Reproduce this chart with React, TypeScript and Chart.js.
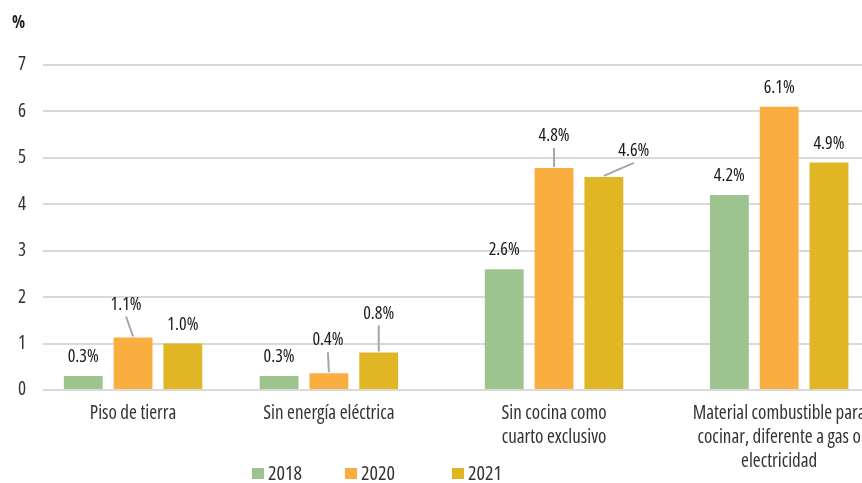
import React, { useEffect, useRef } from 'react';
import { Chart, registerables } from 'chart.js';

Chart.register(...registerables);

// ---- data ----
const categories: string[][] = [
  ['Piso de tierra'],
  ['Sin energía eléctrica'],
  ['Sin cocina como', 'cuarto exclusivo'],
  ['Material combustible para', 'cocinar, diferente a gas o', 'electricidad'],
];
const seriesNames = ['2018', '2020', '2021'];
const values2018 = [0.3, 0.3, 2.6, 4.2];
const values2020 = [1.13, 0.36, 4.78, 6.1];
const values2021 = [1.0, 0.81, 4.59, 4.9];
const yTicks = [0, 1, 2, 3, 4, 5, 6, 7];
const unitLabel = '%';

// ---- layout / style ----
const categorySlots = [0, 0.87, 1.87, 2.87];
const seriesColors = ['#9dc38e', '#fbae40', '#e0b625'];
const FAMILY = "'Open Sans', sans-serif";
const STRETCH = 'condensed';
const W = 921;
const H = 483;
const labelPlacement: Record<string, { dx: number; dy: number }> = {
  '1-0': { dx: -7, dy: -33 },
  '1-1': { dx: -1, dy: -33 },
  '2-1': { dx: 0, dy: -39 },
  '1-2': { dx: 0, dy: -32 },
  '2-2': { dx: 30, dy: -26 },
};
const legendX = [252, 345, 452];

const labelsPlugin = {
  id: 'barValueLabels',
  afterDatasetsDraw(chart: any) {
    const c = chart.ctx as CanvasRenderingContext2D;
    c.save();
    c.font = `${STRETCH} 18px ${FAMILY}`;
    c.textAlign = 'center';
    c.textBaseline = 'middle';
    chart.data.datasets.forEach((ds: any, di: number) => {
      const meta = chart.getDatasetMeta(di);
      meta.data.forEach((bar: any, i: number) => {
        const v = ds.data[i].y as number;
        const place = labelPlacement[`${di}-${i}`];
        const dx = place ? place.dx : 0;
        const dy = place ? place.dy : -19;
        const lx = bar.x + dx;
        const ly = bar.y + dy;
        if (place) {
          c.strokeStyle = '#a6a6a6';
          c.lineWidth = 2;
          c.beginPath();
          c.moveTo(lx, ly + 12);
          c.lineTo(bar.x, bar.y - 1);
          c.stroke();
        }
        c.fillStyle = '#1a1a1a';
        c.fillText(v.toFixed(1) + '%', lx, ly);
      });
    });
    c.restore();
  },
};

const extrasPlugin = {
  id: 'extras',
  afterDraw(chart: any) {
    const c = chart.ctx as CanvasRenderingContext2D;
    c.save();
    c.font = `bold ${STRETCH} 17px ${FAMILY}`;
    c.fillStyle = '#1a1a1a';
    c.textAlign = 'left';
    c.textBaseline = 'middle';
    c.fillText(unitLabel, 12, 23);
    c.font = `${STRETCH} 20px ${FAMILY}`;
    chart.data.datasets.forEach((ds: any, di: number) => {
      const x = legendX[di];
      c.fillStyle = ds.backgroundColor;
      c.fillRect(x, 468, 12, 11);
      c.fillStyle = '#333';
      c.fillText(ds.label, x + 16, 474);
    });
    c.restore();
  },
};

export default function App() {
  const ref = useRef<HTMLCanvasElement>(null);
  useEffect(() => {
    document.body.style.margin = '0';
    document.body.style.overflow = 'hidden';
    document.documentElement.style.overflow = 'hidden';
    const canvas = ref.current!;
    const allValues = [values2018, values2020, values2021];
    const datasets = allValues.map((vals, di) => ({
      label: seriesNames[di],
      data: vals.map((v, i) => ({ x: categorySlots[i], y: v })),
      backgroundColor: seriesColors[di],
      borderWidth: 0,
      barPercentage: 0.78,
      categoryPercentage: 0.763,
    }));
    const chart = new Chart(canvas, {
      type: 'bar',
      data: { datasets } as any,
      options: {
        animation: false,
        responsive: false,
        maintainAspectRatio: false,
        layout: { padding: { top: 65, bottom: 10, left: 0, right: 0 } },
        plugins: { legend: { display: false }, tooltip: { enabled: false } },
        scales: {
          x: {
            type: 'linear',
            min: -0.4,
            max: 3.5,
            bounds: 'data',
            offset: false,
            grid: { display: false, drawTicks: false, offset: false },
            border: { display: false },
            afterBuildTicks: (s: any) => {
              s.ticks = categorySlots.map((v) => ({ value: v }));
            },
            afterFit: (s: any) => {
              s.height = 83;
            },
            ticks: {
              autoSkip: false,
              maxRotation: 0,
              minRotation: 0,
              padding: 12,
              color: '#333',
              font: { family: FAMILY, weight: STRETCH, size: 19, lineHeight: 24 / 19 },
              callback: (_v: any, i: number) => categories[i],
            },
          },
          y: {
            min: 0,
            max: 7,
            afterBuildTicks: (s: any) => {
              s.ticks = yTicks.map((v) => ({ value: v }));
            },
            afterFit: (s: any) => {
              s.width = 43;
            },
            grid: { color: '#d9d9d9', lineWidth: 2, drawTicks: false },
            border: { display: false },
            ticks: { padding: 17, color: '#333', font: { family: FAMILY, weight: STRETCH, size: 19 } },
          },
        },
      } as any,
      plugins: [labelsPlugin, extrasPlugin],
    });
    return () => chart.destroy();
  }, []);
  return (
    <div style={{ width: W, height: H }}>
      <canvas ref={ref} width={W} height={H} style={{ display: 'block', width: W, height: H }} />
    </div>
  );
}
